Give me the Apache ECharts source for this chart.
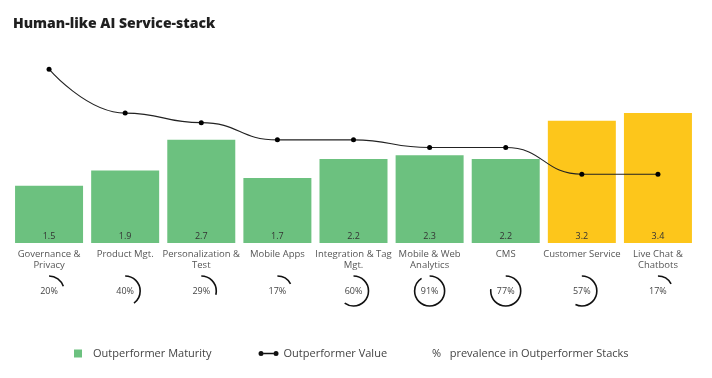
<!DOCTYPE html>
<html>
<head>
<meta charset="utf-8">
<script src="https://cdn.jsdelivr.net/npm/echarts@6/dist/echarts.min.js"></script>
<style>html,body{margin:0;padding:0;background:#fff;}#c{width:712px;height:378px;}</style>
</head>
<body>
<div id="c"></div>
<script>
const categories = ['Governance &\nPrivacy', 'Product Mgt.', 'Personalization &\nTest', 'Mobile Apps', 'Integration & Tag\nMgt.', 'Mobile & Web\nAnalytics', 'CMS', 'Customer Service', 'Live Chat &\nChatbots'];
const maturity = [1.5, 1.9, 2.7, 1.7, 2.2, 2.3, 2.2, 3.2, 3.4];
const highlighted = [false, false, false, false, false, false, false, true, true];
const outperformerValue = [91, 68, 63, 54, 54, 50, 50, 36, 36];
const prevalence = [20, 40, 29, 17, 60, 91, 77, 57, 17];

const FONT = '"Open Sans", sans-serif';
const GREEN = '#6CC17F';
const YELLOW = '#FDC61B';

const legendText = {fontFamily: FONT, fontSize: 11, color: '#444'};

const chart = echarts.init(document.getElementById('c'), null, {renderer: 'canvas'});
chart.setOption({
  animation: false,
  backgroundColor: '#fff',
  title: {
    text: 'Human-like AI Service-stack',
    left: 8, top: 12,
    textStyle: {fontFamily: FONT, fontSize: 14, fontWeight: 800, color: '#1f1f1f'}
  },
  legend: [
    {
      left: 69, top: 343,
      itemWidth: 20, itemHeight: 8, itemGap: 47,
      textStyle: legendText,
      data: [
        {name: 'Outperformer Maturity', icon: 'path://M0,0h8v8h-8z', itemStyle: {color: GREEN}},
        {name: 'Outperformer Value', icon: 'path://M0,2.5a2.5,2.5 0 1,0 5,0a2.5,2.5 0 1,0 -5,0zM5,1.7h10v1.6h-10zM15,2.5a2.5,2.5 0 1,0 5,0a2.5,2.5 0 1,0 -5,0z', itemStyle: {color: '#111'}}
      ]
    },
    {
      left: 422, top: 343,
      itemWidth: 0, itemHeight: 8,
      textStyle: legendText,
      formatter: function (name) { return '%   ' + name; },
      data: [{name: 'prevalence in Outperformer Stacks', icon: 'none'}]
    }
  ],
  grid: [
    {left: 11, right: 16, top: 52, bottom: 135},
    {left: 11, right: 16, top: 277, height: 28}
  ],
  xAxis: [
    {
      type: 'category', data: categories, gridIndex: 0,
      axisLine: {show: false}, axisTick: {show: false},
      axisLabel: {interval: 0, margin: 6, fontFamily: FONT, fontSize: 9.5, lineHeight: 11, color: '#555'}
    },
    {type: 'category', data: categories, gridIndex: 1, show: false}
  ],
  yAxis: [
    {type: 'value', min: 0, max: 5, gridIndex: 0, show: false},
    {type: 'value', min: 0, max: 100, gridIndex: 0, show: false},
    {type: 'value', min: 0, max: 1, gridIndex: 1, show: false}
  ],
  series: [
    {
      name: 'Outperformer Maturity', type: 'bar', xAxisIndex: 0, yAxisIndex: 0,
      barWidth: 68,
      data: maturity.map((v, i) => ({value: v, itemStyle: {color: highlighted[i] ? YELLOW : GREEN}})),
      itemStyle: {color: GREEN},
      label: {show: true, position: 'insideBottom', distance: 2, fontFamily: FONT, fontSize: 9, color: '#333'}
    },
    {
      name: 'Outperformer Value', type: 'line', xAxisIndex: 0, yAxisIndex: 1,
      data: outperformerValue, smooth: 0.5, smoothMonotone: 'x',
      symbol: 'circle', symbolSize: 5,
      lineStyle: {color: '#222', width: 1.1},
      itemStyle: {color: '#000'},
      z: 5
    },
    {
      name: 'prevalence in Outperformer Stacks', type: 'custom', xAxisIndex: 1, yAxisIndex: 2,
      data: prevalence.map((p, i) => [i, p]),
      renderItem: function (params, api) {
        const c = api.coord([api.value(0), 0.5]);
        const p = api.value(1) / 100;
        const start = -Math.PI / 2;
        return {
          type: 'group',
          children: [
            {type: 'arc', shape: {cx: c[0], cy: c[1], r: 15, startAngle: start, endAngle: start + 2 * Math.PI * p, clockwise: true},
             style: {stroke: '#111', fill: null, lineWidth: 1.6}},
            {type: 'text', x: c[0], y: c[1],
             style: {text: api.value(1) + '%', align: 'center', verticalAlign: 'middle', fill: '#444', fontFamily: FONT, fontSize: 9}}
          ]
        };
      }
    }
  ]
});
</script>
</body>
</html>
